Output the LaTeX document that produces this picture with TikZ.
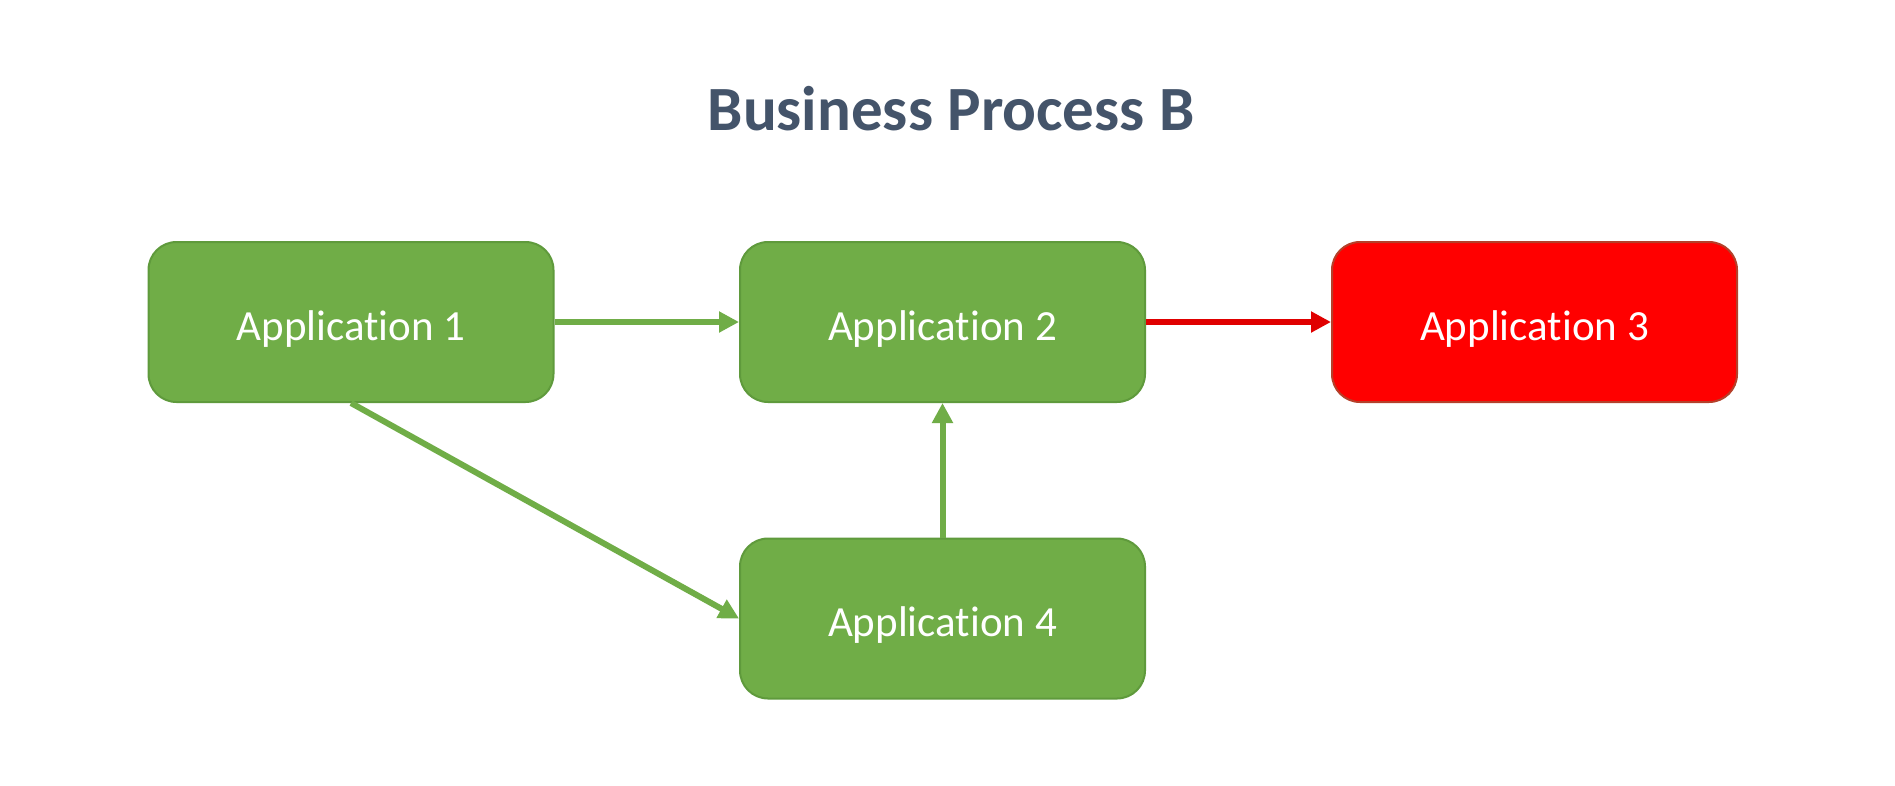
\documentclass[tikz,border=0pt]{standalone}
\usepackage{fontspec}
\setmainfont{Carlito}[Ligatures={NoCommon,NoRequired,NoContextual}]
\usetikzlibrary{arrows.meta}
\definecolor{appgreen}{HTML}{70AD47}
\definecolor{appgreenedge}{HTML}{5F9A3C}
\definecolor{appred}{HTML}{FF0000}
\definecolor{appredge}{HTML}{B5402A}
\definecolor{titlecol}{HTML}{44546A}
\definecolor{redarrow}{HTML}{E00000}
\tikzset{
  appbox/.style={draw=appgreenedge, fill=appgreen, line width=2pt, rounded corners=28pt,
    minimum width=405pt, minimum height=160pt, inner sep=0pt, text=white,
    text depth=0pt, text height=36pt, font=\fontsize{43}{50}\selectfont},
  redbox/.style={appbox, draw=appredge, fill=appred},
  flow/.style={draw=appgreen, line width=6pt, -{Triangle[length=20pt,width=20pt]}},
  redflow/.style={flow, draw=redarrow}
}
\begin{document}
\begin{tikzpicture}[x=1pt,y=-1pt]
\path[use as bounding box, fill=white] (0,0) rectangle (1895,785);
\node[font=\bfseries\fontsize{63}{72}\selectfont, text=titlecol] (title) at (951,109) {Business Process B};
\node[appbox] (a1) at (351,322) {Application 1};
\node[appbox] (a2) at (942.5,322) {Application 2};
\node[redbox] (a3) at (1534.5,322) {Application 3};
\node[appbox] (a4) at (942.5,618.5) {Application 4};
\draw[flow] (a1.east) -- (a2.west);
\draw[redflow] (a2.east) -- (a3.west);
\draw[flow] (a4.north) -- (a2.south);
\draw[flow] (a1.south) -- (a4.west);
\end{tikzpicture}
\end{document}
